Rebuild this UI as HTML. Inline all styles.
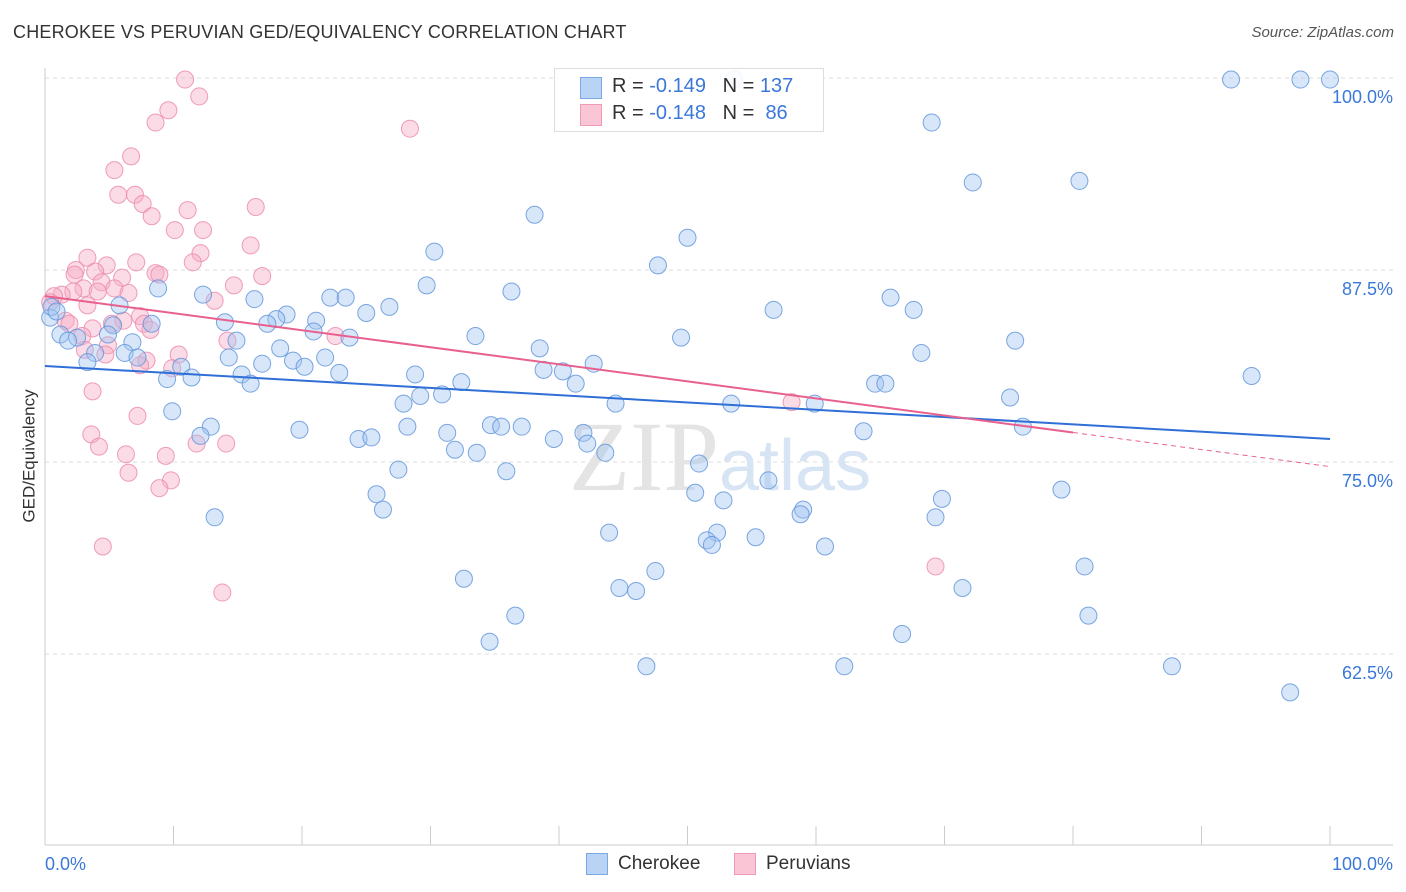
<!DOCTYPE html>
<html><head><meta charset="utf-8"><style>
body{margin:0;background:#fff;font-family:"Liberation Sans",sans-serif;}
#wrap{position:relative;width:1406px;height:892px;overflow:hidden;}
.t{position:absolute;white-space:nowrap;}
</style></head><body>
<div id="wrap">
<div class="t" style="left:13px;top:22px;font-size:18px;color:#333;letter-spacing:0.2px">CHEROKEE VS PERUVIAN GED/EQUIVALENCY CORRELATION CHART</div>
<div class="t" style="right:12px;top:24px;font-size:15px;color:#555;font-style:italic">Source: ZipAtlas.com</div>
<div class="t" style="left:-37px;top:446px;font-size:17px;color:#333;transform:rotate(-90deg)">GED/Equivalency</div>
<svg id="plot" width="1406" height="892" style="position:absolute;left:0;top:0"></svg>
<div style="position:absolute;left:554px;top:68px;width:268px;height:62px;border:1px solid #ddd;background:rgba(255,255,255,0.9);font-size:20px;">
 <div style="position:absolute;left:25px;top:8px;width:20px;height:20px;background:#b9d3f5;border:1px solid #7aa8e4"></div>
 <div class="t" style="left:57px;top:6px;color:#333">R = <span style="color:#3b78d8">-0.149</span>&nbsp;&nbsp;&nbsp;N = <span style="color:#3b78d8">137</span></div>
 <div style="position:absolute;left:25px;top:35px;width:20px;height:20px;background:#fac6d6;border:1px solid #f09ab6"></div>
 <div class="t" style="left:57px;top:33px;color:#333">R = <span style="color:#3b78d8">-0.148</span>&nbsp;&nbsp;&nbsp;N = &nbsp;<span style="color:#3b78d8">86</span></div>
</div>
<div style="position:absolute;left:586px;top:853px;width:20px;height:20px;background:#b9d3f5;border:1px solid #7aa8e4"></div>
<div class="t" style="left:618px;top:853px;font-size:19px;color:#333">Cherokee</div>
<div style="position:absolute;left:734px;top:853px;width:20px;height:20px;background:#fac6d6;border:1px solid #f09ab6"></div>
<div class="t" style="left:766px;top:853px;font-size:19px;color:#333">Peruvians</div>
</div>
<script>
const blueX=[92.3,97.7,100,53.6,69.0,72.2,80.5,38.1,50.0,30.3,47.7,29.7,36.3,8.8,12.3,16.3,22.2,23.4,26.8,5.8,65.8,67.6,56.7,18.8,18.0,17.3,14.0,21.1,25.0,5.3,8.3,4.9,1.2,2.5,1.8,14.9,20.9,23.7,33.5,49.5,75.5,6.8,18.3,38.5,68.2,3.9,6.2,7.2,14.3,19.3,21.8,3.3,16.9,20.2,10.6,42.7,38.8,40.3,15.3,22.9,28.8,93.9,9.5,11.4,16.0,32.4,41.3,64.6,65.4,29.2,30.9,75.1,27.9,44.4,53.4,59.9,9.9,34.7,35.5,37.1,28.2,12.9,19.8,76.1,31.3,41.9,63.7,12.1,24.4,25.4,39.6,42.2,31.9,33.6,43.6,50.9,27.5,35.9,56.3,79.1,25.8,50.6,52.8,69.8,26.3,59.0,58.8,69.3,13.2,43.9,52.3,51.5,51.9,55.3,60.7,80.9,47.5,32.6,44.7,46.0,71.4,36.6,81.2,66.7,34.6,46.8,62.2,87.7,96.9,0.4,0.5,0.9];
const blueY=[99.9,99.9,99.9,99.9,97.1,93.2,93.3,91.1,89.6,88.7,87.8,86.5,86.1,86.3,85.9,85.6,85.7,85.7,85.1,85.2,85.7,84.9,84.9,84.6,84.3,84.0,84.1,84.2,84.7,83.9,84.0,83.3,83.3,83.1,82.9,82.9,83.5,83.1,83.2,83.1,82.9,82.8,82.4,82.4,82.1,82.1,82.1,81.8,81.8,81.6,81.8,81.5,81.4,81.2,81.2,81.4,81.0,80.9,80.7,80.8,80.7,80.6,80.4,80.5,80.1,80.2,80.1,80.1,80.1,79.3,79.4,79.2,78.8,78.8,78.8,78.8,78.3,77.4,77.3,77.3,77.3,77.3,77.1,77.3,76.9,76.9,77.0,76.7,76.5,76.6,76.5,76.2,75.8,75.6,75.6,74.9,74.5,74.4,73.8,73.2,72.9,73.0,72.5,72.6,71.9,71.9,71.6,71.4,71.4,70.4,70.4,69.9,69.6,70.1,69.5,68.2,67.9,67.4,66.8,66.6,66.8,65.0,65.0,63.8,63.3,61.7,61.7,61.7,60.0,84.4,85.1,84.8];
const pinkX=[10.9,12.0,9.6,8.6,28.4,6.7,5.4,7.0,5.7,7.6,11.1,16.4,8.3,10.1,12.3,16.0,12.1,3.3,7.1,11.5,4.8,16.9,2.4,3.9,2.3,8.6,8.9,6.0,14.7,3.0,4.4,5.4,2.2,6.5,4.1,13.2,1.3,0.7,3.3,0.4,7.4,6.1,7.7,5.2,1.6,1.9,3.7,8.2,14.2,22.6,2.9,4.9,3.1,4.7,10.4,7.9,7.4,9.9,3.7,7.2,3.6,4.2,11.8,14.1,6.3,9.4,6.5,9.8,8.9,4.5,13.8,58.1,69.3];
const pinkY=[99.9,98.8,97.9,97.1,96.7,94.9,94.0,92.4,92.4,91.8,91.4,91.6,91.0,90.1,90.1,89.1,88.6,88.3,88.0,88.0,87.8,87.1,87.5,87.4,87.2,87.3,87.2,87.0,86.5,86.3,86.7,86.3,86.1,86.0,86.1,85.5,85.9,85.8,85.2,85.4,84.5,84.2,84.0,84.0,84.2,84.0,83.7,83.6,82.9,83.2,83.2,82.6,82.3,82.0,82.0,81.6,81.3,81.1,79.6,78.0,76.8,76.0,76.2,76.2,75.5,75.4,74.3,73.8,73.3,69.5,66.5,78.9,68.2];
const blueTrend=[81.25,76.5];
const pinkTrend=[85.8,74.7];
const pinkSolidEnd=80;
const yTicks=[100,87.5,75,62.5];
const yTickLabels=["100.0%","87.5%","75.0%","62.5%"];
const xTicks=[0,10,20,30,40,50,60,70,80,90,100];

const NS="http://www.w3.org/2000/svg";
const svg=document.getElementById('plot');
const X0=45,X1=1330,YTOP=78,PXY=15.36;
const sx=v=>X0+(X1-X0)*v/100;
const sy=v=>YTOP+(100-v)*PXY;
function mk(tag,attrs){const e=document.createElementNS(NS,tag);for(const k in attrs)e.setAttribute(k,attrs[k]);svg.appendChild(e);return e;}
yTicks.forEach((v,i)=>{
 const g=mk('line',{x1:X0,x2:1393,y1:sy(v),y2:sy(v),stroke:'#dcdcdc','stroke-dasharray':'4,4'});
 
 
 const t=mk('text',{x:1393,y:sy(v)+25,'text-anchor':'end','font-size':18,fill:'#3b78d8','font-family':'Liberation Sans, sans-serif'});
 t.textContent=yTickLabels[i];
 
 
});
const ax=mk('line',{x1:X0,x2:X0,y1:68,y2:845,stroke:'#ccc'});


const bx=mk('line',{x1:X0,x2:1393,y1:845,y2:845,stroke:'#ccc'});


xTicks.forEach(v=>{
 const l=mk('line',{x1:sx(v),x2:sx(v),y1:826,y2:845,stroke:'#ccc'});
 
 
});
[[0,'start',45,'0.0%'],[100,'end',1393,'100.0%']].forEach(a=>{
 const t=mk('text',{x:a[2],y:870,'text-anchor':a[1],'font-size':18,fill:'#3b78d8','font-family':'Liberation Sans, sans-serif'});
 t.textContent=a[3];
 
 
});
const wm=mk('text',{x:720,y:490,'text-anchor':'middle','font-size':100,fill:'#e4e4e4','font-family':'Liberation Serif, serif'});
wm.innerHTML='ZIP<tspan font-family="Liberation Sans, sans-serif" font-size="72" fill="#d6e4f4">atlas</tspan>';


pinkX.forEach((x,i)=>{
 const c=mk('circle',{cx:sx(x),cy:sy(pinkY[i]),r:8.5,fill:'rgba(246,170,196,0.42)',stroke:'rgba(236,140,175,0.85)','stroke-width':1});
 
 
});
blueX.forEach((x,i)=>{
 const c=mk('circle',{cx:sx(x),cy:sy(blueY[i]),r:8.5,fill:'rgba(160,195,240,0.42)',stroke:'rgba(100,150,220,0.85)','stroke-width':1});
 
 
});
const bt=mk('line',{x1:sx(0),y1:sy(blueTrend[0]),x2:sx(100),y2:sy(blueTrend[1]),stroke:'#2f6fd6','stroke-width':2});


const pv=x=>pinkTrend[0]+(pinkTrend[1]-pinkTrend[0])*x/100;
const pt=mk('line',{x1:sx(0),y1:sy(pv(0)),x2:sx(pinkSolidEnd),y2:sy(pv(pinkSolidEnd)),stroke:'#e8608e','stroke-width':2});


const pd=mk('line',{x1:sx(pinkSolidEnd),y1:sy(pv(pinkSolidEnd)),x2:sx(100),y2:sy(pv(100)),stroke:'#e8608e','stroke-width':1,'stroke-dasharray':'5,4'});


</script>
</body></html>
